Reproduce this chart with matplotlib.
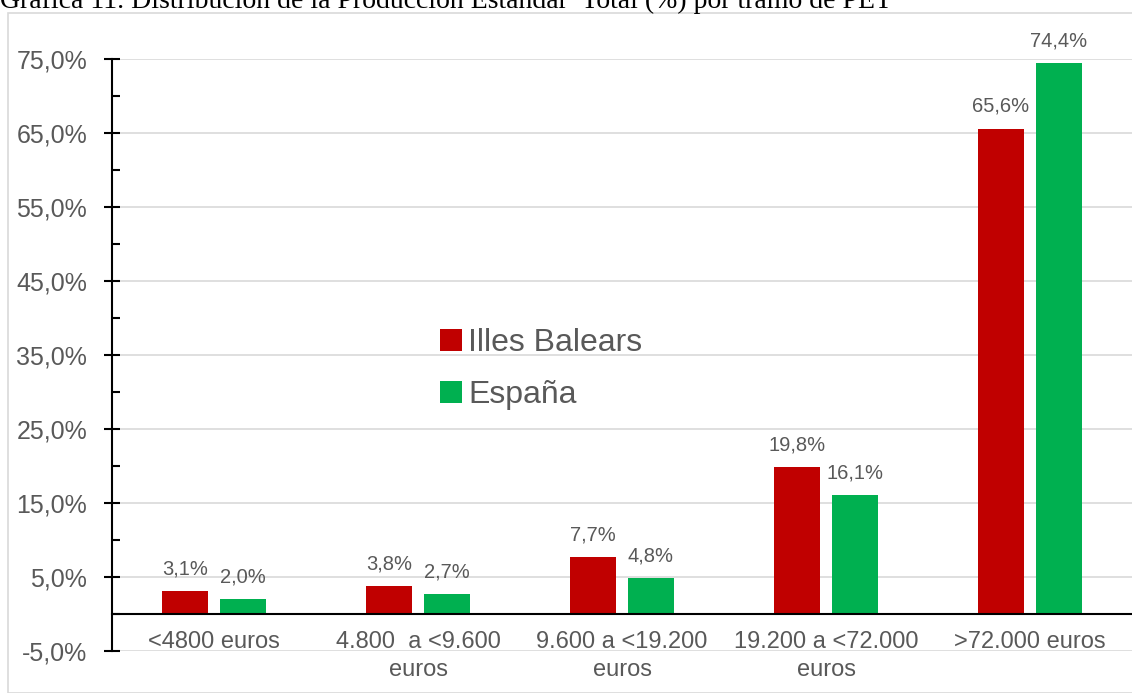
import matplotlib
matplotlib.use("Agg")
import matplotlib.pyplot as plt
import numpy as np
from matplotlib.patches import Rectangle

categories = ["<4800 euros", "4.800  a <9.600\neuros", "9.600 a <19.200\neuros",
              "19.200 a <72.000\neuros", ">72.000 euros"]
series_names = ["Illes Balears", "España"]
baleares = [3.1, 3.8, 7.7, 19.8, 65.6]
espana = [2.0, 2.7, 4.8, 16.1, 74.4]
yticks = [-5, 5, 15, 25, 35, 45, 55, 65, 75]
title = "Gráfica 11. Distribución de la Producción Estándar  Total (%) por tramo de PET"

RED = "#C00000"
GREEN = "#00B050"
GRAY = "#595959"

plt.rcParams['font.family'] = ['Liberation Sans', 'DejaVu Sans']

fig = plt.figure(figsize=(11.32, 6.93), dpi=100)
fig.patches.append(Rectangle((8/1132, 0), 1 - 8/1132 + 0.01, 1 - 13/693, transform=fig.transFigure,
                             fill=False, edgecolor="#D9D9D9", lw=1.2, zorder=0))
fig.text(0.0, 1 - 8/693, title, family=['Liberation Serif', 'DejaVu Serif'], fontsize=20,
         color="black", va='baseline', ha='left')

ax = fig.add_axes([112/1132, 1 - 651/693, 1 - 112/1132, (651 - 59)/693])
ax.spines['bottom'].set_position(('data', 0))
x = np.arange(len(categories))
w = 0.225
off = 0.142
b1 = ax.bar(x - off, baleares, w, color=RED, label=series_names[0], zorder=3)
b2 = ax.bar(x + off, espana, w, color=GREEN, label=series_names[1], zorder=3)

for bars, vals in ((b1, baleares), (b2, espana)):
    for r, v in zip(bars, vals):
        ax.annotate(f"{v:.1f}%".replace('.', ','), (r.get_x() + r.get_width()/2, v),
                    xytext=(0, 16), textcoords='offset points', ha='center', va='center',
                    fontsize=14.5, color=GRAY)

ax.set_xlim(-0.5, len(categories) - 0.5)
ax.set_ylim(-5, 75)
ax.set_yticks(yticks)
ax.set_yticklabels([f"{t:.1f}%".replace('.', ',') for t in yticks], fontsize=18, color=GRAY)
ax.set_yticks(np.arange(0, 75, 10) + 0, minor=True)
ax.tick_params(axis='y', which='major', direction='inout', length=12, width=1.5, pad=12)
ax.tick_params(axis='y', which='minor', direction='in', length=6, width=1.5)
ax.grid(axis='y', which='major', color="#D9D9D9", lw=1.2, zorder=0)

ax.set_xticks(x)
ax.set_xticklabels(categories, fontsize=17, color=GRAY, linespacing=1.35)
ax.tick_params(axis='x', length=0, pad=12)

for s in ('top', 'right'):
    ax.spines[s].set_visible(False)
ax.spines['bottom'].set_linewidth(1.5)
ax.spines['left'].set_linewidth(1.5)
ax.spines['bottom'].set_zorder(4)

leg = ax.legend(loc='upper left', bbox_to_anchor=(0.293, 0.594), frameon=False, fontsize=23,
                labelcolor=GRAY, handlelength=0.7, handleheight=0.7, handletextpad=0.2,
                labelspacing=0.7)

fig.savefig("out.png", dpi=100)
